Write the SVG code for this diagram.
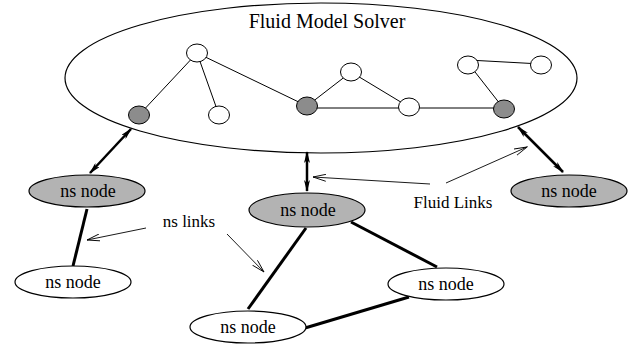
<svg xmlns="http://www.w3.org/2000/svg" width="633" height="349" viewBox="0 0 633 349" font-family="'Liberation Serif','Times New Roman',serif">
<style>
text{font-family:"Liberation Serif","Times New Roman",serif;fill:#000}
.lbl{font-size:18px;text-anchor:middle}
.ns{stroke:#000;stroke-width:1.2}
.g{fill:#b3b3b3}
.w{fill:#fff}
.sc{stroke:#000;stroke-width:1}
.sg{fill:#8c8c8c}
.e{stroke:#000;stroke-width:1;fill:none}
.nl{stroke:#000;stroke-width:3;fill:none}
.fl{stroke:#000;stroke-width:2.5;fill:none;marker-start:url(#fa);marker-end:url(#fa)}
.la{stroke:#000;stroke-width:0.9;fill:none;marker-end:url(#oa)}
</style>
<defs>
<marker id="fa" viewBox="0 0 12 6" refX="11" refY="3" markerWidth="12" markerHeight="6" markerUnits="userSpaceOnUse" orient="auto-start-reverse">
<path d="M0,0 L12,3 L0,6 L3,3 Z" fill="#000"/>
</marker>
<marker id="oa" viewBox="0 0 14 8" refX="13" refY="4" markerWidth="14" markerHeight="8" markerUnits="userSpaceOnUse" orient="auto">
<path d="M0,0.5 L13,4 L0,7.5" fill="none" stroke="#000" stroke-width="0.9"/>
</marker>
</defs>
<g id="solver">
<ellipse cx="321" cy="78" rx="256" ry="75" fill="#fff" stroke="#000" stroke-width="1.2"/>
<text x="327" y="28" font-size="20" text-anchor="middle" font-family="'Liberation Serif','Times New Roman',serif">Fluid Model Solver</text>
<g id="solver-edges">
<line class="e" x1="197" y1="53" x2="139" y2="115"/>
<line class="e" x1="197" y1="53" x2="219" y2="115"/>
<line class="e" x1="197" y1="53" x2="307" y2="106"/>
<line class="e" x1="307" y1="106" x2="351" y2="72"/>
<line class="e" x1="351" y1="72" x2="409" y2="107"/>
<line class="e" x1="307" y1="108" x2="504" y2="108"/>
<line class="e" x1="468" y1="63" x2="504" y2="109"/>
<line class="e" x1="468" y1="60" x2="541" y2="64"/>
</g>
<g id="c1"><ellipse class="sc w" cx="197" cy="53" rx="10.5" ry="9"/></g>
<g id="c2"><ellipse class="sc sg" cx="139" cy="115" rx="10.5" ry="9"/></g>
<g id="c3"><ellipse class="sc w" cx="219" cy="115" rx="10.5" ry="9"/></g>
<g id="c4"><ellipse class="sc sg" cx="307" cy="106" rx="10.5" ry="9"/></g>
<g id="c5"><ellipse class="sc w" cx="351" cy="72" rx="10.5" ry="9"/></g>
<g id="c6"><ellipse class="sc w" cx="409" cy="107" rx="10.5" ry="9"/></g>
<g id="c7"><ellipse class="sc sg" cx="504" cy="109" rx="10.5" ry="9"/></g>
<g id="c8"><ellipse class="sc w" cx="468" cy="65" rx="10.5" ry="9"/></g>
<g id="c9"><ellipse class="sc w" cx="541" cy="65" rx="10.5" ry="9"/></g>
</g>
<g id="connectors">
<line class="fl" x1="131" y1="129" x2="90" y2="173"/>
<line class="fl" x1="307" y1="152" x2="307" y2="191"/>
<line class="fl" x1="518" y1="127" x2="563" y2="172"/>
<line class="nl" x1="87" y1="209" x2="73" y2="266"/>
<line class="nl" x1="306" y1="228" x2="248" y2="309"/>
<line class="nl" x1="351" y1="222" x2="437" y2="267"/>
<line class="nl" x1="305" y1="328" x2="409" y2="297"/>
<line class="la" x1="146" y1="228" x2="87" y2="240"/>
<line class="la" x1="227" y1="234" x2="264" y2="272"/>
<line class="la" x1="430" y1="184" x2="313" y2="177"/>
<line class="la" x1="446" y1="183" x2="527" y2="147"/>
</g>
<g id="ns1"><ellipse class="ns g" cx="87" cy="191" rx="58" ry="16"/><text class="lbl" x="88" y="197">ns node</text></g>
<g id="ns2"><ellipse class="ns w" cx="73" cy="282" rx="58" ry="16"/><text class="lbl" x="73" y="288">ns node</text></g>
<g id="ns3"><ellipse class="ns g" cx="307" cy="210" rx="58" ry="17"/><text class="lbl" x="308" y="216">ns node</text></g>
<g id="ns4"><ellipse class="ns w" cx="248" cy="327" rx="58" ry="16"/><text class="lbl" x="248" y="333">ns node</text></g>
<g id="ns5"><ellipse class="ns w" cx="446" cy="284" rx="58" ry="16"/><text class="lbl" x="446" y="290">ns node</text></g>
<g id="ns6"><ellipse class="ns g" cx="569" cy="191" rx="58" ry="16"/><text class="lbl" x="569" y="197">ns node</text></g>
<g id="labels">
<text class="lbl" x="189" y="227" font-size="17" style="font-size:17px">ns links</text>
<text class="lbl" x="453" y="208" style="font-size:17px">Fluid Links</text>
</g>
</svg>
